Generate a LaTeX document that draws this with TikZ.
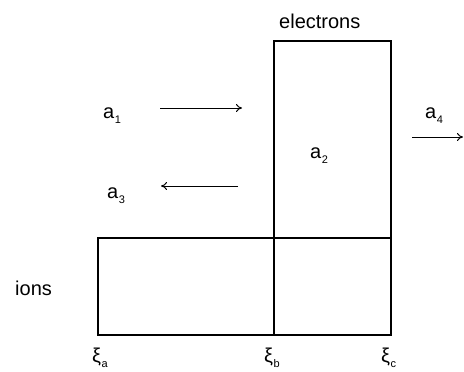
\documentclass[tikz,border=0pt]{standalone}
\usepackage{fontspec}
\setmainfont{Liberation Sans}
\usetikzlibrary{arrows.meta}
\newcommand{\sub}[2]{#1\hspace{0.5pt}\raisebox{-5pt}{\fontsize{11}{12}\selectfont #2}}
\begin{document}
\begin{tikzpicture}[x=1pt,y=-1pt,
  lbl/.style={font=\fontsize{20}{24}\selectfont, inner sep=0pt, anchor=base west},
  box/.style={draw, line width=1.4pt},
  flow/.style={draw, line width=1pt, -{To[length=6pt,width=8pt]}}]
\useasboundingbox (0,0) rectangle (464,372);
\coordinate (iNW) at (98,238);
\coordinate (iSE) at (391,335);
\coordinate (eNW) at (274,41);
\coordinate (eSE) at (391,335);
\draw[box] (iNW) rectangle (iSE);
\draw[box] (eNW) rectangle (eSE);
\node[lbl] (el) at (279,28) {electrons};
\node[lbl] (ions) at (15,295) {ions};
\node[lbl] (a1) at (103,118) {\sub{a}{1}};
\node[lbl] (a2) at (310,158) {\sub{a}{2}};
\node[lbl] (a3) at (107,198) {\sub{a}{3}};
\node[lbl] (a4) at (425,118) {\sub{a}{4}};
\coordinate (r1s) at (160,108); \coordinate (r1e) at (242,108);
\coordinate (r3s) at (238,186); \coordinate (r3e) at (161,186);
\coordinate (r4s) at (412,137); \coordinate (r4e) at (463,137);
\draw[flow] (r1s) -- (r1e);
\draw[flow] (r3s) -- (r3e);
\draw[flow] (r4s) -- (r4e);
\node[lbl] (xa) at (92,362) {\sub{ξ}{a}};
\node[lbl] (xb) at (264,362) {\sub{ξ}{b}};
\node[lbl] (xc) at (381,362) {\sub{ξ}{c}};
\end{tikzpicture}
\end{document}
